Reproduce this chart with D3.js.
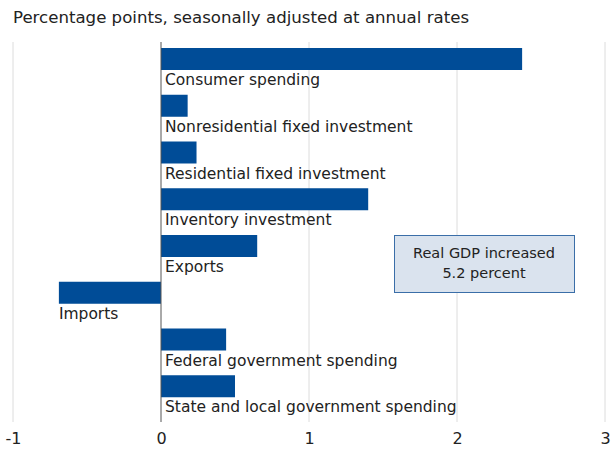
<!DOCTYPE html>
<html>
<head>
<meta charset="utf-8">
<script src="https://cdn.jsdelivr.net/npm/d3@7/dist/d3.min.js"></script>
<style>
  html, body { margin: 0; padding: 0; background: #fff; }
  svg { display: block; font-family: "DejaVu Sans", sans-serif; }
</style>
</head>
<body>
<svg id="chart" width="616" height="450"></svg>
<script>
// Contributions to percent change in real GDP, by component
const categories = [
  "Consumer spending",
  "Nonresidential fixed investment",
  "Residential fixed investment",
  "Inventory investment",
  "Exports",
  "Imports",
  "Federal government spending",
  "State and local government spending"
];
const values = [2.44, 0.18, 0.24, 1.40, 0.65, -0.69, 0.44, 0.50];
const xTicks = [-1, 0, 1, 2, 3];
const title = "Percentage points, seasonally adjusted at annual rates";
const noteLines = ["Real GDP increased", "5.2 percent"];

const svg = d3.select("#chart");
const barColor = "#004c97";
const font = "'DejaVu Sans', sans-serif";

const x = d3.scaleLinear().domain([-1, 3]).range([13, 605]);
const y = d3.scaleBand().domain(categories).range([36, 410]).paddingInner(0).paddingOuter(0);
const barH = 22;

// subtitle
svg.append("text")
  .attr("x", 13).attr("y", 23)
  .attr("font-size", 16.6).attr("fill", "#222")
  .text(title);

// vertical gridlines
svg.append("g").selectAll("line")
  .data(xTicks.filter(d => d !== 0))
  .join("line")
  .attr("x1", d => x(d)).attr("x2", d => x(d))
  .attr("y1", 42).attr("y2", 422)
  .attr("stroke", "#dcdcdc").attr("stroke-width", 1);

// tick labels via axis
const axis = d3.axisBottom(x).tickValues(xTicks).tickSize(0).tickPadding(0)
  .tickFormat(d => d < 0 ? "-" + Math.abs(d) : d);
const ax = svg.append("g").attr("transform", "translate(0,433)").call(axis);
ax.select(".domain").remove();
ax.selectAll("text").attr("font-size", 16).attr("fill", "#222")
  .attr("font-family", font);

// bars
svg.append("g").selectAll("rect")
  .data(categories)
  .join("rect")
  .attr("x", (d, i) => Math.min(x(0), x(values[i])))
  .attr("width", (d, i) => Math.abs(x(values[i]) - x(0)))
  .attr("y", d => y(d) + 12)
  .attr("height", barH)
  .attr("fill", barColor);

// category labels below bars
svg.append("g").selectAll("text")
  .data(categories)
  .join("text")
  .attr("x", (d, i) => values[i] < 0 ? x(values[i]) : x(0) + 4)
  .attr("y", d => y(d) + 12 + barH + 15)
  .attr("font-size", 15.5).attr("fill", "#222")
  .text(d => d);

// zero line
svg.append("line")
  .attr("x1", x(0)).attr("x2", x(0))
  .attr("y1", 42).attr("y2", 422)
  .attr("stroke", "#555").attr("stroke-width", 1);

// annotation box
const box = svg.append("g");
box.append("rect")
  .attr("x", 394.5).attr("y", 235.5).attr("width", 180).attr("height", 57)
  .attr("fill", "#dae3ee").attr("stroke", "#3a6ea8").attr("stroke-width", 1);
box.selectAll("text").data(noteLines).join("text")
  .attr("x", 484).attr("y", (d, i) => 258 + i * 20)
  .attr("text-anchor", "middle")
  .attr("font-size", 14.5).attr("fill", "#222")
  .text(d => d);
</script>
</body>
</html>
